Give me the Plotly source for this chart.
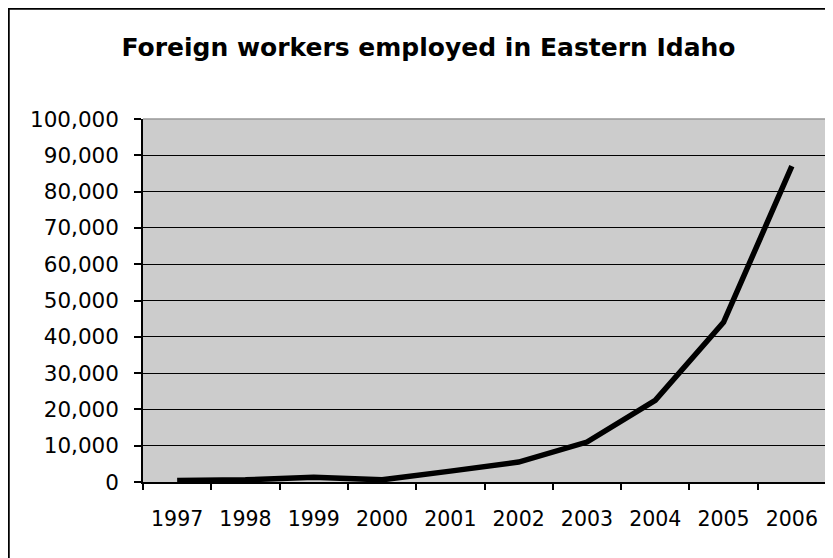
import plotly.graph_objects as go

years = ["1997", "1998", "1999", "2000", "2001", "2002", "2003", "2004", "2005", "2006"]
workers = [400, 600, 1300, 600, 3000, 5500, 11000, 22500, 44000, 87000]
title_text = "Foreign workers employed in Eastern Idaho"

# page has an 8px body margin; figure sits at (8, 8)
W, H = 825, 550
L, R, T, B = 135, 7, 111, 76
pw, ph = W - L - R, H - T - B

def px(x):
    return (x - L) / pw

def py(y):
    return (H - B - y) / ph

fig = go.Figure(go.Scatter(
    x=years, y=workers, mode="lines",
    line=dict(color="black", width=5.5),
    hoverinfo="x+y",
))

font = "DejaVu Sans, sans-serif"
fig.update_layout(
    width=W, height=H,
    margin=dict(l=L, r=R, t=T, b=B, pad=0),
    paper_bgcolor="white",
    plot_bgcolor="#CCCCCC",
    showlegend=False,
    font=dict(family=font, size=21, color="black"),
    title=dict(text="<b>" + title_text + "</b>", x=420.5 / W, xanchor="center",
               xref="container",
               y=1 - 39 / H, yanchor="middle", yref="container",
               font=dict(family=font, size=25, color="black")),
    xaxis=dict(
        type="category", tickson="boundaries", ticks="outside", ticklen=6,
        tickwidth=1.5, tickcolor="black", showline=True, linecolor="black",
        linewidth=1.5, showgrid=False, ticklabelstandoff=18,
        tickfont=dict(size=20.5), range=[-0.5, 9.5], fixedrange=True,
    ),
    yaxis=dict(
        range=[0, 100000], dtick=10000, tickformat=",", ticks="outside",
        ticklen=7, tickwidth=1.5, tickcolor="black", showline=True,
        linecolor="black", linewidth=1.5, showgrid=True, gridcolor="black",
        gridwidth=1.2, zeroline=False, ticklabelstandoff=11,
        tickfont=dict(size=21.5), fixedrange=True,
    ),
    shapes=[
        dict(type="line", xref="paper", yref="paper", x0=0, x1=1, y0=1, y1=1,
             line=dict(color="#999999", width=1.5), layer="above"),
        dict(type="line", xref="paper", yref="paper", x0=1, x1=1, y0=0, y1=1,
             line=dict(color="#999999", width=1.5), layer="above"),
        dict(type="line", xref="paper", yref="paper", x0=px(0), x1=px(W + 5),
             y0=py(0.5), y1=py(0.5), line=dict(color="black", width=2.5)),
        dict(type="line", xref="paper", yref="paper", x0=px(0.5), x1=px(0.5),
             y0=py(0), y1=py(H + 5), line=dict(color="black", width=2.5)),
    ],
)

fig.write_html("out.html")
